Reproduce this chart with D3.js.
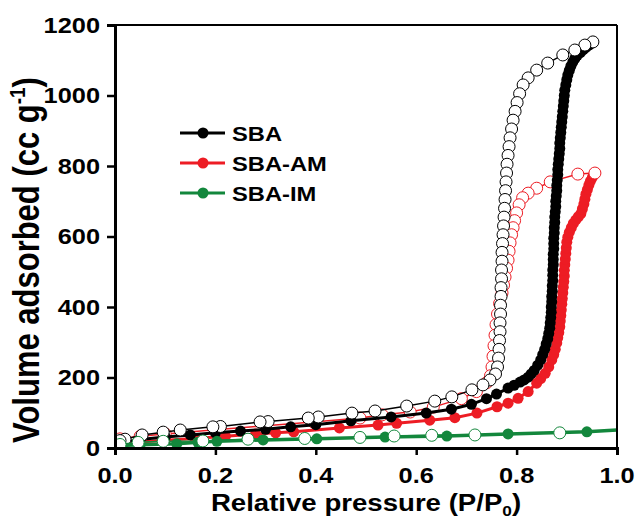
<!DOCTYPE html>
<html>
<head>
<meta charset="utf-8">
<script src="https://cdn.jsdelivr.net/npm/d3@7"></script>
<style>
body { margin: 0; background: #fff; }
text { font-family: "Liberation Sans", Arial, sans-serif; font-weight: bold; fill: #000; }
</style>
</head>
<body>
<svg id="chart"></svg>
<script>
// SBA (black)
const sbaAds = [
[0.01,15],[0.05,24],[0.1,31],[0.15,37],[0.2,43],[0.25,48],[0.3,53],[0.35,60],[0.4,66],[0.47,77],
[0.55,88],[0.62,99],[0.67,110],[0.71,124],[0.74,140],[0.76,153],[0.783,170],[0.795,178],[0.807,187],
[0.815,193],[0.823,201],[0.829,210],[0.835,220],[0.842,235],[0.848,250],[0.852,265],[0.856,280],
[0.859,295],[0.862,310],[0.864,325],[0.866,340],[0.867,355],[0.868,370],[0.869,385],[0.869,400],
[0.870,415],[0.870,430],[0.871,445],[0.871,460],[0.872,475],[0.872,490],[0.872,505],[0.873,520],
[0.873,535],[0.873,550],[0.874,565],[0.874,580],[0.874,595],[0.875,610],[0.875,625],[0.876,640],
[0.876,655],[0.877,670],[0.878,685],[0.878,700],[0.879,715],[0.880,730],[0.880,745],[0.881,760],
[0.882,775],[0.882,790],[0.883,805],[0.884,820],[0.885,835],[0.886,850],[0.886,865],[0.887,880],
[0.888,895],[0.889,910],[0.890,925],[0.891,940],[0.892,955],[0.893,970],[0.894,985],[0.895,1000],
[0.896,1015],[0.898,1030],[0.900,1045],[0.902,1058],[0.905,1071],[0.908,1083],[0.912,1095],
[0.916,1105],[0.921,1114],[0.927,1122],[0.933,1130],[0.939,1137],[0.945,1144],[0.952,1152]
];
const sbaDes = [
[0.952,1152],[0.936,1143],[0.916,1129],[0.892,1115],[0.862,1092],[0.840,1072],[0.823,1050],
[0.813,1030],[0.806,1005],[0.801,980],[0.797,955],[0.793,930],[0.790,905],[0.787,880],[0.785,855],
[0.783,830],[0.781,805],[0.780,780],[0.779,755],[0.778,730],[0.777,705],[0.776,680],[0.775,655],
[0.774,630],[0.773,605],[0.772,580],[0.771,555],[0.771,530],[0.770,505],[0.770,480],[0.769,455],
[0.769,430],[0.768,405],[0.768,380],[0.767,355],[0.767,330],[0.766,305],[0.765,280],[0.764,255],
[0.762,230],[0.758,210],[0.747,193],[0.733,179],[0.711,165],[0.671,145],[0.637,133],[0.581,119],
[0.518,105],[0.472,99],[0.405,88],[0.385,85],[0.305,75],[0.289,74],[0.21,61],[0.195,60],[0.13,51],
[0.096,45],[0.054,37],[0.02,25],[0.01,21]
];
// SBA-AM (red)
const amAds = [
[0.01,12],[0.05,17],[0.1,22],[0.16,27],[0.22,33],[0.28,40],[0.32,43],[0.356,46],[0.447,57],
[0.524,65],[0.561,70],[0.627,79],[0.677,86],[0.721,99],[0.761,117],[0.783,127],[0.803,141],
[0.823,160],[0.84,184],[0.848,197],[0.857,212],[0.864,230],[0.87,250],[0.874,265],[0.877,280],
[0.88,298],[0.882,313],[0.884,328],[0.886,344],[0.887,360],[0.888,376],[0.889,392],[0.890,408],
[0.891,424],[0.892,440],[0.893,456],[0.894,472],[0.895,488],[0.895,504],[0.896,520],[0.897,536],
[0.898,552],[0.899,568],[0.900,584],[0.902,598],[0.905,612],[0.909,625],[0.913,637],[0.918,647],
[0.923,656],[0.928,665],[0.931,678],[0.934,692],[0.936,706],[0.938,720],[0.941,733],[0.944,746],
[0.947,757],[0.951,768],[0.956,780]
];
const amDes = [
[0.956,780],[0.922,777],[0.867,755],[0.84,737],[0.823,723],[0.812,710],[0.805,690],[0.80,667],
[0.796,645],[0.793,625],[0.79,605],[0.787,582],[0.785,558],[0.783,533],[0.780,510],[0.777,485],
[0.774,462],[0.771,440],[0.766,410],[0.762,380],[0.759,350],[0.757,320],[0.755,290],[0.753,260],
[0.751,230],[0.748,205],[0.74,185],[0.72,160],[0.69,140],[0.634,116],[0.588,102],[0.532,94],
[0.488,85],[0.395,74],[0.3,63],[0.2,52],[0.1,40],[0.05,33],[0.01,26]
];
// SBA-IM (green)
const imAds = [
[0.01,7],[0.05,9],[0.123,12],[0.165,16],[0.203,19],[0.295,23],[0.402,26],[0.538,31],
[0.661,34],[0.783,40],[0.94,46],[1.02,53]
];
const imDes = [
[0.886,43],[0.717,37],[0.631,36],[0.556,34],[0.488,30],[0.378,27],[0.265,25],[0.175,20],
[0.096,19],[0.046,16],[0.01,10]
];
const xTicks = [0, 0.2, 0.4, 0.6, 0.8, 1.0];
const yTicks = [0, 200, 400, 600, 800, 1000, 1200];
const legendNames = ["SBA", "SBA-AM", "SBA-IM"];
const colors = ["#000000", "#ed1c24", "#13873c"];

const W = 638, H = 519;
const m = {left: 115, right: 21, top: 25, bottom: 71};
const svg = d3.select("#chart").attr("width", W).attr("height", H);

const x = d3.scaleLinear().domain([0, 1]).range([m.left, W - m.right]);
const y = d3.scaleLinear().domain([0, 1200]).range([H - m.bottom, m.top]);

svg.append("clipPath").attr("id", "clip")
.append("rect")
.attr("x", m.left).attr("y", m.top)
.attr("width", W - m.left - m.right).attr("height", H - m.top - m.bottom);

const plot = svg.append("g").attr("clip-path", "url(#clip)");
const line = d3.line().x(d => x(d[0])).y(d => y(d[1]));

function drawLine(data, color, width) {
    plot.append("path")
        .datum(data)
        .attr("d", line)
        .attr("fill", "none")
        .attr("stroke", color)
        .attr("stroke-width", width);
}
function drawDots(data, color, filled) {
    plot.append("g").selectAll("circle")
        .data(data)
        .enter()
        .append("circle")
        .attr("cx", d => x(d[0]))
        .attr("cy", d => y(d[1]))
        .attr("r", filled ? 5.5 : 6)
        .attr("fill", filled ? color : "#fff")
        .attr("stroke", color)
        .attr("stroke-width", filled ? 0 : 1);
}

drawLine(amAds, colors[1], 3); drawDots(amAds, colors[1], true);
drawLine(amDes, colors[1], 1.5); drawDots(amDes, colors[1], false);
drawLine(sbaAds, colors[0], 3); drawDots(sbaAds, colors[0], true);
drawLine(sbaDes, colors[0], 1.5); drawDots(sbaDes, colors[0], false);
drawLine(imDes, colors[2], 1.5);
drawLine(imAds, colors[2], 3.5); drawDots(imAds, colors[2], true);
drawDots(imDes, colors[2], false);

// frame
svg.append("line").attr("x1", m.left).attr("x2", W - m.right)
.attr("y1", m.top).attr("y2", m.top).attr("stroke", "#000").attr("stroke-width", 2);
svg.append("line").attr("x1", W - m.right).attr("x2", W - m.right)
.attr("y1", m.top).attr("y2", H - m.bottom).attr("stroke", "#000").attr("stroke-width", 2);

const xAxis = svg.append("g")
.attr("transform", `translate(0,${H - m.bottom})`)
.call(d3.axisBottom(x).tickValues(xTicks).tickFormat("").tickSize(7));
const yAxis = svg.append("g")
.attr("transform", `translate(${m.left},0)`)
.call(d3.axisLeft(y).tickValues(yTicks).tickFormat("").tickSize(8));

[xAxis, yAxis].forEach(a => {
    a.select(".domain").attr("stroke-width", 3).attr("stroke", "#000");
    a.selectAll(".tick line").attr("stroke-width", 2.5).attr("stroke", "#000");
});

// the source figure is stretched sideways, so text gets a horizontal scale
const sx = 1.18;
svg.append("g").selectAll("text")
.data(xTicks)
.enter()
.append("text")
.attr("transform", d => `translate(${x(d)},483) scale(${sx},1)`)
.attr("text-anchor", "middle")
.attr("font-size", 21.5)
.text(d3.format(".1f"));
svg.append("g").selectAll("text")
.data(yTicks)
.enter()
.append("text")
.attr("transform", d => `translate(100,${y(d)}) scale(${sx},1)`)
.attr("text-anchor", "end")
.attr("dy", "0.36em")
.attr("font-size", 21.5)
.text(d => d);

// axis titles
const xt = svg.append("text")
.attr("transform", "translate(366,511) scale(1.15,1)")
.attr("text-anchor", "middle")
.attr("font-size", 24);
xt.append("tspan").text("Relative pressure (P/P");
xt.append("tspan").text("0").attr("font-size", 15).attr("dy", 5);
xt.append("tspan").text(")").attr("dy", -5);

const yt = svg.append("text")
.attr("transform", `translate(39,260) scale(${sx},1) rotate(-90)`)
.attr("text-anchor", "middle")
.attr("font-size", 31);
yt.append("tspan").text("Volume adsorbed (cc g");
yt.append("tspan").text("-1").attr("font-size", 19).attr("dy", -12);
yt.append("tspan").text(")").attr("dy", 12);

// legend
const legend = svg.append("g").selectAll("g")
.data(legendNames)
.enter()
.append("g")
.attr("transform", (d, i) => `translate(180,${133 + i * 30})`);
legend.append("line")
.attr("x1", 0).attr("x2", 45)
.attr("stroke", (d, i) => colors[i])
.attr("stroke-width", 3);
legend.append("circle")
.attr("cx", 23).attr("r", 5.5)
.attr("fill", (d, i) => colors[i]);
legend.append("text")
.attr("transform", "translate(52,0) scale(1.13,1)")
.attr("dy", "0.36em")
.attr("font-size", 21)
.text(d => d);
</script>
</body>
</html>
